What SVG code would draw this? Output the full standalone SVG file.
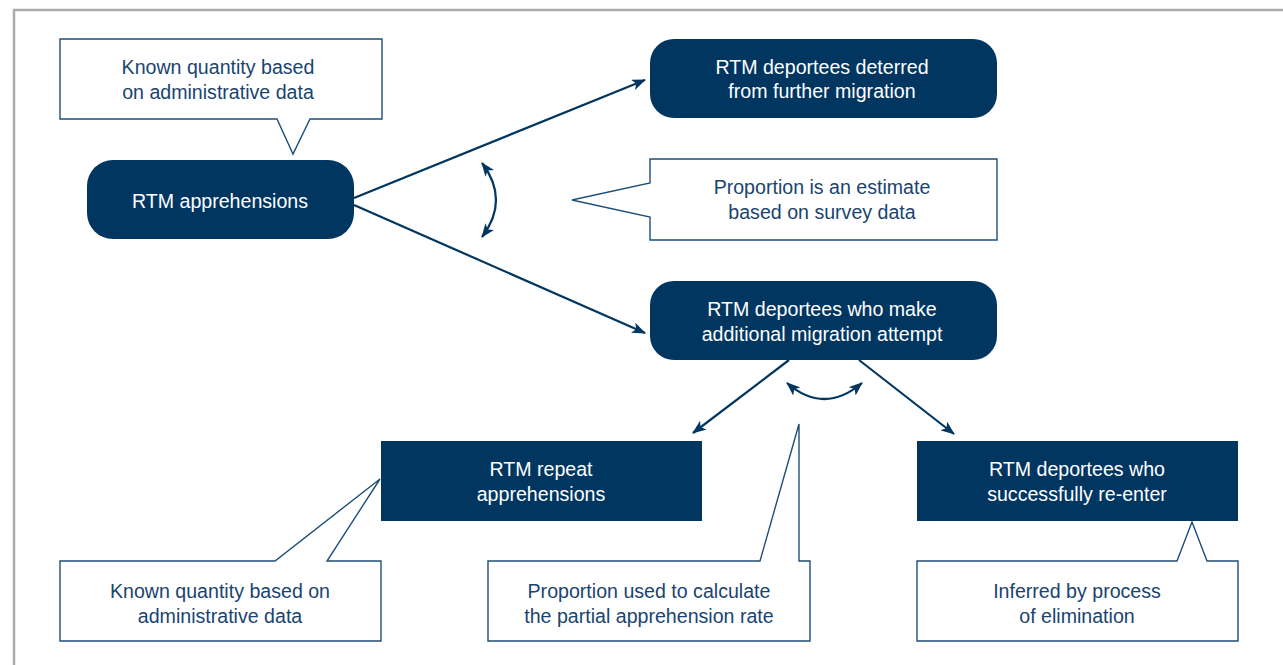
<svg xmlns="http://www.w3.org/2000/svg" width="1283" height="665" viewBox="0 0 1283 665">
<defs>
<marker id="ah" viewBox="0 0 14 11" refX="13" refY="5.5" markerWidth="14" markerHeight="11" markerUnits="userSpaceOnUse" orient="auto-start-reverse">
<path d="M0,0 L14,5.5 L0,11 L3.5,5.5 z" fill="#003660"/>
</marker>
<style>
.dark{fill:#003660;}
.call{fill:#fff;stroke:#1f4e79;stroke-width:1.4;}
.con{fill:none;stroke:#003660;stroke-width:2.2;}
.wt{font-family:"Liberation Sans",Arial,sans-serif;font-size:19.6px;fill:#fff;text-anchor:middle;}
.bt{font-family:"Liberation Sans",Arial,sans-serif;font-size:19.6px;fill:#1a4470;text-anchor:middle;}
</style>
</defs>
<rect width="1283" height="665" fill="#fff"/>
<path d="M14,665 L14,10 L1283,10" fill="none" stroke="#aaaaaa" stroke-width="2.5"/>

<g id="connectors">
<line class="con" x1="354" y1="198" x2="645" y2="80" marker-end="url(#ah)"/>
<line class="con" x1="354" y1="205" x2="645" y2="333" marker-end="url(#ah)"/>
<path class="con" d="M482,163 Q510,200 482,237" marker-start="url(#ah)" marker-end="url(#ah)"/>
<line class="con" x1="789" y1="360" x2="693" y2="433" marker-end="url(#ah)"/>
<line class="con" x1="859" y1="360" x2="954" y2="434" marker-end="url(#ah)"/>
<path class="con" d="M787,383 Q824,415 862,383" marker-start="url(#ah)" marker-end="url(#ah)"/>
</g>

<g id="callout-top">
<path class="call" d="M60,39 H382 V119 H310 L293,154 L277,119 H60 Z"/>
<text class="bt" x="218" y="74">Known quantity based</text>
<text class="bt" x="218" y="99">on administrative data</text>
</g>

<g id="node-apprehensions">
<rect class="dark" x="87" y="160" width="267" height="79" rx="26"/>
<text class="wt" x="220" y="208">RTM apprehensions</text>
</g>

<g id="node-deterred">
<rect class="dark" x="650" y="39" width="347" height="79" rx="24"/>
<text class="wt" x="822" y="74">RTM deportees deterred</text>
<text class="wt" x="822" y="98">from further migration</text>
</g>

<g id="callout-survey">
<path class="call" d="M650,159 H997 V240 H650 V217 L572,200 L650,183 Z"/>
<text class="bt" x="822" y="194">Proportion is an estimate</text>
<text class="bt" x="822" y="219">based on survey data</text>
</g>

<g id="node-additional">
<rect class="dark" x="650" y="281" width="347" height="79" rx="24"/>
<text class="wt" x="822" y="316">RTM deportees who make</text>
<text class="wt" x="822" y="341">additional migration attempt</text>
</g>

<g id="node-repeat">
<rect class="dark" x="381" y="441" width="321" height="80"/>
<text class="wt" x="541" y="476">RTM repeat</text>
<text class="wt" x="541" y="501">apprehensions</text>
</g>

<g id="node-reenter">
<rect class="dark" x="917" y="441" width="321" height="80"/>
<text class="wt" x="1077" y="476">RTM deportees who</text>
<text class="wt" x="1077" y="501">successfully re-enter</text>
</g>

<g id="callout-repeat">
<path class="call" d="M60,561 H275 L380,479 L327,561 H381 V641 H60 Z"/>
<text class="bt" x="220" y="598">Known quantity based on</text>
<text class="bt" x="220" y="623">administrative data</text>
</g>

<g id="callout-rate">
<path class="call" d="M488,561 H760 L799,424 V561 H810 V641 H488 Z"/>
<text class="bt" x="649" y="598">Proportion used to calculate</text>
<text class="bt" x="649" y="623">the partial apprehension rate</text>
</g>

<g id="callout-eliminate">
<path class="call" d="M917,561 H1177 L1192,522 L1207,561 H1238 V641 H917 Z"/>
<text class="bt" x="1077" y="598">Inferred by process</text>
<text class="bt" x="1077" y="623">of elimination</text>
</g>
</svg>
